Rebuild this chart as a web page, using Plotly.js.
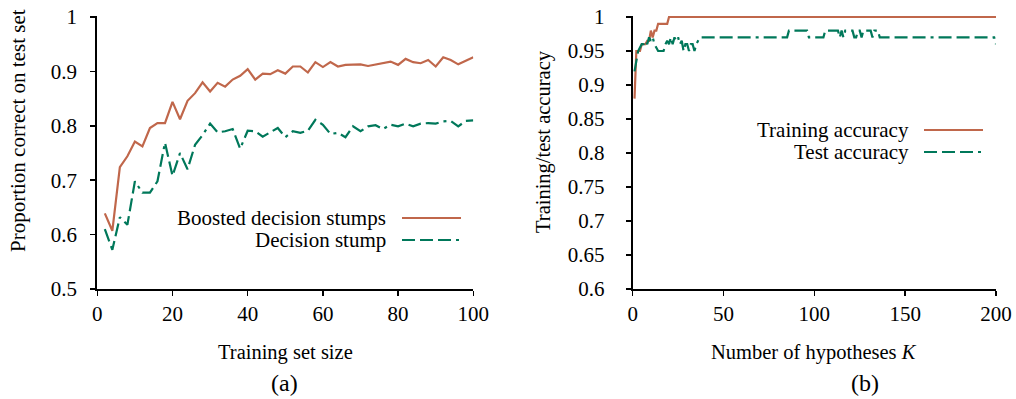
<!DOCTYPE html>
<html>
<head>
<meta charset="utf-8">
<script src="https://cdn.plot.ly/plotly-3.0.1.min.js"></script>
<style>html,body{margin:0;padding:0;background:#fff;}#chart{width:1016px;height:399px;}</style>
</head>
<body>
<div id="chart"></div>
<script>
// ----- Panel (a) data -----
const trainingSetSizes = [2,4,6,8,10,12,14,16,18,20,22,24,26,28,30,32,34,36,38,40,42,44,46,48,50,52,54,56,58,60,62,64,66,68,70,72,74,76,78,80,82,84,86,88,90,92,94,96,98,100];
const boostedStumps = [0.639,0.607,0.724,0.744,0.771,0.762,0.796,0.805,0.805,0.844,
  0.812,0.846,0.860,0.880,0.863,0.879,0.872,0.885,0.892,0.904,
  0.885,0.896,0.895,0.902,0.896,0.909,0.909,0.898,0.917,0.908,
  0.917,0.909,0.912,0.912,0.913,0.910,0.913,0.915,0.918,0.912,
  0.923,0.917,0.915,0.921,0.909,0.926,0.921,0.913,0.920,0.926];
const decisionStump = [0.610,0.572,0.632,0.618,0.698,0.677,0.677,0.698,0.769,0.708,
  0.750,0.720,0.765,0.783,0.804,0.788,0.790,0.794,0.758,0.791,
  0.790,0.780,0.788,0.796,0.779,0.790,0.787,0.791,0.811,0.802,
  0.785,0.787,0.779,0.799,0.790,0.799,0.801,0.794,0.802,0.799,
  0.804,0.799,0.804,0.805,0.804,0.808,0.809,0.799,0.809,0.810];

// ----- Panel (b) data -----
const kTrain = [1,2,3,4,5,6,7,8,9,10,11,12,13,14,15,16,17,18,19,20,200];
const trainAcc = [0.88,0.95,0.95,0.95,0.96,0.96,0.96,0.965,0.965,0.98,0.97,0.98,0.98,0.99,0.99,0.99,0.99,0.99,0.99,1.0,1.0];
const kTest = [1,2,3,4,5,6,7,8,9,10,11,12,13,14,15,16,17,18,19,20,
  21,22,23,24,25,26,27,28,29,30,31,32,33,34,35,36,37,38,85,86,
  96,97,105,106,113,114,115,116,117,121,122,123,124,125,126,127,131,132,133,135,136,199,200];
const testAcc = [0.92,0.935,0.95,0.955,0.96,0.96,0.965,0.96,0.97,0.965,0.97,0.96,0.955,0.95,0.95,0.95,0.95,0.96,0.965,0.96,
  0.97,0.96,0.97,0.965,0.97,0.96,0.965,0.95,0.96,0.96,0.95,0.96,0.96,0.95,0.96,0.965,0.97,0.97,0.97,0.98,
  0.98,0.97,0.97,0.98,0.98,0.97,0.98,0.97,0.98,0.98,0.97,0.97,0.98,0.98,0.97,0.98,0.98,0.97,0.98,0.98,0.97,0.97,0.96];

const yTicksA = [0.5,0.6,0.7,0.8,0.9,1];
const yTickTextA = ['0.5','0.6','0.7','0.8','0.9','1'];
const xTicksA = [0,20,40,60,80,100];
const yTicksB = [0.6,0.65,0.7,0.75,0.8,0.85,0.9,0.95,1];
const yTickTextB = ['0.6','0.65','0.7','0.75','0.8','0.85','0.9','0.95','1'];
const xTicksB = [0,50,100,150,200];

const ORANGE = '#c0674b';
const GREEN = '#00785a';
const DASH = '13px,5px,13px,5px,13px,5px,3px,5px';
const FONT = 'Liberation Serif';

const traces = [
  {x: trainingSetSizes, y: boostedStumps, type:'scatter', mode:'lines', line:{color:ORANGE, width:2.2}, xaxis:'x', yaxis:'y', showlegend:false},
  {x: trainingSetSizes, y: decisionStump, type:'scatter', mode:'lines', line:{color:GREEN, width:2.2, dash:DASH}, xaxis:'x', yaxis:'y', showlegend:false},
  {x: kTrain, y: trainAcc, type:'scatter', mode:'lines', line:{color:ORANGE, width:2.2}, xaxis:'x2', yaxis:'y2', showlegend:false},
  {x: kTest, y: testAcc, type:'scatter', mode:'lines', line:{color:GREEN, width:2.2, dash:DASH}, xaxis:'x2', yaxis:'y2', showlegend:false}
];

const axisCommon = {
  showline:true, linecolor:'#000', linewidth:2, showgrid:false, zeroline:false,
  ticks:'outside', ticklen:5, tickwidth:1.5, tickcolor:'#000',
  tickfont:{family:FONT, size:21, color:'#000'}, fixedrange:true
};

const W = 1016, H = 399;
const TOP = 16, BOT = 289;
const px = v => v / W;
const py = v => 1 - (v - TOP) / (BOT - TOP);

const layout = {
  width: W, height: H,
  margin: {l:0, r:0, t:TOP, b:H - BOT},
  paper_bgcolor:'#fff', plot_bgcolor:'#fff',
  font:{family:FONT, color:'#000'},
  showlegend:false,
  xaxis: Object.assign({}, axisCommon, {domain:[97.3/W, 473.3/W], range:[0,100], tickvals:xTicksA, ticklabelstandoff:0, anchor:'y'}),
  yaxis: Object.assign({}, axisCommon, {domain:[0,1], range:[0.5,1.00184], tickvals:yTicksA, ticktext:yTickTextA, ticklabelstandoff:9, anchor:'x'}),
  xaxis2: Object.assign({}, axisCommon, {domain:[632.7/W, 996/W], range:[0,200], tickvals:xTicksB, ticklabelstandoff:0, anchor:'y2'}),
  yaxis2: Object.assign({}, axisCommon, {domain:[0,1], range:[0.6,1.00147], tickvals:yTicksB, ticktext:yTickTextB, ticklabelstandoff:17, anchor:'x2'}),
  annotations: [
    {text:'Proportion correct on test set', textangle:-90, xref:'paper', yref:'paper', x:px(18), y:py(131), showarrow:false, font:{family:FONT, size:21}, xanchor:'center', yanchor:'middle'},
    {text:'Training/test accuracy', textangle:-90, xref:'paper', yref:'paper', x:px(543), y:py(142), showarrow:false, font:{family:FONT, size:20.5}, xanchor:'center', yanchor:'middle'},
    {text:'Training set size', xref:'paper', yref:'paper', x:px(285), y:py(352), showarrow:false, font:{family:FONT, size:20.5}, xanchor:'center', yanchor:'middle'},
    {text:'Number of hypotheses <i>K</i>', xref:'paper', yref:'paper', x:px(814), y:py(352), showarrow:false, font:{family:FONT, size:20.5}, xanchor:'center', yanchor:'middle'},
    {text:'(a)', xref:'paper', yref:'paper', x:px(284), y:py(398), showarrow:false, font:{family:FONT, size:24}, xanchor:'center', yanchor:'bottom'},
    {text:'(b)', xref:'paper', yref:'paper', x:px(865), y:py(398), showarrow:false, font:{family:FONT, size:24}, xanchor:'center', yanchor:'bottom'},
    {text:'Boosted decision stumps', xref:'paper', yref:'paper', x:px(388), y:py(218), showarrow:false, font:{family:FONT, size:21}, xanchor:'right', yanchor:'middle'},
    {text:'Decision stump', xref:'paper', yref:'paper', x:px(388), y:py(240), showarrow:false, font:{family:FONT, size:21}, xanchor:'right', yanchor:'middle'},
    {text:'Training accuracy', xref:'paper', yref:'paper', x:px(911), y:py(130), showarrow:false, font:{family:FONT, size:21}, xanchor:'right', yanchor:'middle'},
    {text:'Test accuracy', xref:'paper', yref:'paper', x:px(911), y:py(152), showarrow:false, font:{family:FONT, size:21}, xanchor:'right', yanchor:'middle'}
  ],
  shapes: [
    {type:'line', xref:'paper', yref:'paper', x0:px(402), x1:px(461), y0:py(218), y1:py(218), line:{color:ORANGE, width:2.2}},
    {type:'line', xref:'paper', yref:'paper', x0:px(402), x1:px(461), y0:py(240), y1:py(240), line:{color:GREEN, width:2.2, dash:DASH}},
    {type:'line', xref:'paper', yref:'paper', x0:px(924), x1:px(983), y0:py(130), y1:py(130), line:{color:ORANGE, width:2.2}},
    {type:'line', xref:'paper', yref:'paper', x0:px(924), x1:px(983), y0:py(152), y1:py(152), line:{color:GREEN, width:2.2, dash:DASH}}
  ]
};

Plotly.newPlot('chart', traces, layout, {staticPlot:true, displayModeBar:false});
</script>
</body>
</html>
